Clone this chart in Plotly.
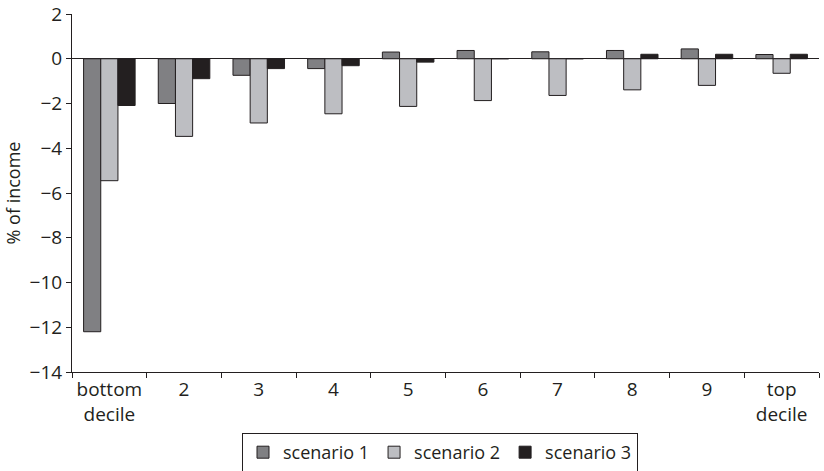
import plotly.graph_objects as go

categories = ["bottom<br>decile", "2", "3", "4", "5", "6", "7", "8", "9", "top<br>decile"]
scenario_1 = [-12.2, -2.0, -0.74, -0.44, 0.3, 0.37, 0.31, 0.37, 0.44, 0.19]
scenario_2 = [-5.45, -3.47, -2.87, -2.46, -2.13, -1.87, -1.64, -1.39, -1.19, -0.65]
scenario_3 = [-2.09, -0.89, -0.44, -0.31, -0.15, 0.0, 0.0, 0.2, 0.2, 0.2]
y_ticks = [2, 0, -2, -4, -6, -8, -10, -12, -14]

FONT = "Open Sans"
DARK = "#231f20"
FS = 19

fig = go.Figure()
for name, vals, col in [("scenario 1", scenario_1, "#808083"),
                        ("scenario 2", scenario_2, "#bdbec2"),
                        ("scenario 3", scenario_3, DARK)]:
    fig.add_trace(go.Bar(x=categories, y=vals, name=name,
                         marker=dict(color=col, line=dict(color=DARK, width=1))))

fig.update_layout(
    width=824, height=471,
    margin=dict(l=72, r=5, t=14, b=99),
    paper_bgcolor="white", plot_bgcolor="white",
    barmode="group", bargap=0.31, bargroupgap=0,
    font=dict(family=FONT, size=FS, color=DARK),
    showlegend=True,
    legend=dict(orientation="h", x=440 / 824, xanchor="center", xref="container",
                y=1 - 433 / 471, yanchor="top", yref="container",
                bordercolor=DARK, borderwidth=1, font=dict(size=FS - 1),
                traceorder="normal"),
    xaxis=dict(showline=True, linecolor=DARK, linewidth=1, ticks="outside",
               tickson="boundaries", ticklen=5, tickcolor=DARK, automargin=False,
               showgrid=False, zeroline=False, tickfont=dict(size=FS)),
    yaxis=dict(range=[-14, 2], tickvals=y_ticks, automargin=False,
               ticktext=[str(v).replace("-", "\u2212") for v in y_ticks],
               showline=True, linecolor=DARK, linewidth=1, ticks="outside",
               ticklen=5, tickcolor=DARK, showgrid=False,
               zeroline=True, zerolinecolor=DARK, zerolinewidth=1,
               title=dict(text="% of income", font=dict(size=FS - 1), standoff=4),
               tickfont=dict(size=FS)),
)

fig.write_html("out.html", config={"displayModeBar": False},
               post_script="document.body.style.margin='0';document.body.style.overflow='hidden';")
